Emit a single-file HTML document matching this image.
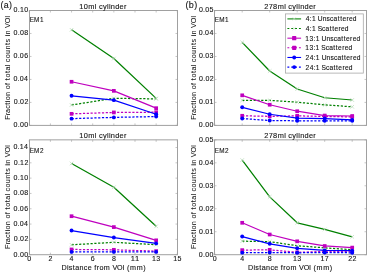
<!DOCTYPE html><html><head><meta charset="utf-8"><style>html,body{margin:0;padding:0;background:#fff;width:368px;height:272px;overflow:hidden}svg{display:block}#w{will-change:transform}</style></head><body>
<div id="w">
<svg width="368" height="272" viewBox="0 0 368 272" font-family='"Liberation Sans", sans-serif'>
<rect width="368" height="272" fill="#fff"/>
<rect x="29.5" y="10.5" width="148.0" height="114.9" fill="none" stroke="#a0a0a0" stroke-width="1"/>
<path d="M29.5 125.40h2M177.5 125.40h-2" stroke="#a0a0a0" stroke-width="0.6"/>
<path d="M29.5 102.42h2M177.5 102.42h-2" stroke="#a0a0a0" stroke-width="0.6"/>
<path d="M29.5 79.44h2M177.5 79.44h-2" stroke="#a0a0a0" stroke-width="0.6"/>
<path d="M29.5 56.46h2M177.5 56.46h-2" stroke="#a0a0a0" stroke-width="0.6"/>
<path d="M29.5 33.48h2M177.5 33.48h-2" stroke="#a0a0a0" stroke-width="0.6"/>
<path d="M29.5 10.50h2M177.5 10.50h-2" stroke="#a0a0a0" stroke-width="0.6"/>
<path d="M29.25 125.4v-2M29.25 10.5v2" stroke="#a0a0a0" stroke-width="0.6"/>
<path d="M50.40 125.4v-2M50.40 10.5v2" stroke="#a0a0a0" stroke-width="0.6"/>
<path d="M71.55 125.4v-2M71.55 10.5v2" stroke="#a0a0a0" stroke-width="0.6"/>
<path d="M92.70 125.4v-2M92.70 10.5v2" stroke="#a0a0a0" stroke-width="0.6"/>
<path d="M113.85 125.4v-2M113.85 10.5v2" stroke="#a0a0a0" stroke-width="0.6"/>
<path d="M135.00 125.4v-2M135.00 10.5v2" stroke="#a0a0a0" stroke-width="0.6"/>
<path d="M156.15 125.4v-2M156.15 10.5v2" stroke="#a0a0a0" stroke-width="0.6"/>
<path d="M177.30 125.4v-2M177.30 10.5v2" stroke="#a0a0a0" stroke-width="0.6"/>
<rect x="29.5" y="139.85" width="148.0" height="114.85" fill="none" stroke="#a0a0a0" stroke-width="1"/>
<path d="M29.5 254.70h2M177.5 254.70h-2" stroke="#a0a0a0" stroke-width="0.6"/>
<path d="M29.5 239.39h2M177.5 239.39h-2" stroke="#a0a0a0" stroke-width="0.6"/>
<path d="M29.5 224.07h2M177.5 224.07h-2" stroke="#a0a0a0" stroke-width="0.6"/>
<path d="M29.5 208.76h2M177.5 208.76h-2" stroke="#a0a0a0" stroke-width="0.6"/>
<path d="M29.5 193.45h2M177.5 193.45h-2" stroke="#a0a0a0" stroke-width="0.6"/>
<path d="M29.5 178.13h2M177.5 178.13h-2" stroke="#a0a0a0" stroke-width="0.6"/>
<path d="M29.5 162.82h2M177.5 162.82h-2" stroke="#a0a0a0" stroke-width="0.6"/>
<path d="M29.5 147.51h2M177.5 147.51h-2" stroke="#a0a0a0" stroke-width="0.6"/>
<path d="M29.25 254.7v-2M29.25 139.85v2" stroke="#a0a0a0" stroke-width="0.6"/>
<path d="M50.40 254.7v-2M50.40 139.85v2" stroke="#a0a0a0" stroke-width="0.6"/>
<path d="M71.55 254.7v-2M71.55 139.85v2" stroke="#a0a0a0" stroke-width="0.6"/>
<path d="M92.70 254.7v-2M92.70 139.85v2" stroke="#a0a0a0" stroke-width="0.6"/>
<path d="M113.85 254.7v-2M113.85 139.85v2" stroke="#a0a0a0" stroke-width="0.6"/>
<path d="M135.00 254.7v-2M135.00 139.85v2" stroke="#a0a0a0" stroke-width="0.6"/>
<path d="M156.15 254.7v-2M156.15 139.85v2" stroke="#a0a0a0" stroke-width="0.6"/>
<path d="M177.30 254.7v-2M177.30 139.85v2" stroke="#a0a0a0" stroke-width="0.6"/>
<rect x="214.5" y="10.5" width="152.0" height="114.9" fill="none" stroke="#a0a0a0" stroke-width="1"/>
<path d="M214.5 125.40h2M366.5 125.40h-2" stroke="#a0a0a0" stroke-width="0.6"/>
<path d="M214.5 102.42h2M366.5 102.42h-2" stroke="#a0a0a0" stroke-width="0.6"/>
<path d="M214.5 79.44h2M366.5 79.44h-2" stroke="#a0a0a0" stroke-width="0.6"/>
<path d="M214.5 56.46h2M366.5 56.46h-2" stroke="#a0a0a0" stroke-width="0.6"/>
<path d="M214.5 33.48h2M366.5 33.48h-2" stroke="#a0a0a0" stroke-width="0.6"/>
<path d="M214.5 10.50h2M366.5 10.50h-2" stroke="#a0a0a0" stroke-width="0.6"/>
<path d="M214.70 125.4v-2M214.70 10.5v2" stroke="#a0a0a0" stroke-width="0.6"/>
<path d="M242.20 125.4v-2M242.20 10.5v2" stroke="#a0a0a0" stroke-width="0.6"/>
<path d="M269.70 125.4v-2M269.70 10.5v2" stroke="#a0a0a0" stroke-width="0.6"/>
<path d="M297.20 125.4v-2M297.20 10.5v2" stroke="#a0a0a0" stroke-width="0.6"/>
<path d="M324.70 125.4v-2M324.70 10.5v2" stroke="#a0a0a0" stroke-width="0.6"/>
<path d="M352.20 125.4v-2M352.20 10.5v2" stroke="#a0a0a0" stroke-width="0.6"/>
<rect x="214.5" y="139.85" width="152.0" height="114.85" fill="none" stroke="#a0a0a0" stroke-width="1"/>
<path d="M214.5 254.70h2M366.5 254.70h-2" stroke="#a0a0a0" stroke-width="0.6"/>
<path d="M214.5 231.73h2M366.5 231.73h-2" stroke="#a0a0a0" stroke-width="0.6"/>
<path d="M214.5 208.76h2M366.5 208.76h-2" stroke="#a0a0a0" stroke-width="0.6"/>
<path d="M214.5 185.79h2M366.5 185.79h-2" stroke="#a0a0a0" stroke-width="0.6"/>
<path d="M214.5 162.82h2M366.5 162.82h-2" stroke="#a0a0a0" stroke-width="0.6"/>
<path d="M214.5 139.85h2M366.5 139.85h-2" stroke="#a0a0a0" stroke-width="0.6"/>
<path d="M214.70 254.7v-2M214.70 139.85v2" stroke="#a0a0a0" stroke-width="0.6"/>
<path d="M242.20 254.7v-2M242.20 139.85v2" stroke="#a0a0a0" stroke-width="0.6"/>
<path d="M269.70 254.7v-2M269.70 139.85v2" stroke="#a0a0a0" stroke-width="0.6"/>
<path d="M297.20 254.7v-2M297.20 139.85v2" stroke="#a0a0a0" stroke-width="0.6"/>
<path d="M324.70 254.7v-2M324.70 139.85v2" stroke="#a0a0a0" stroke-width="0.6"/>
<path d="M352.20 254.7v-2M352.20 139.85v2" stroke="#a0a0a0" stroke-width="0.6"/>
<path d="M71.55 104.97 L113.85 98.30 L156.15 98.88" fill="none" stroke="#008000" stroke-width="1.25" stroke-dasharray="2.2 1.6" stroke-linejoin="round"/>
<path d="M69.75 103.17l3.6 3.6M69.75 106.77l3.6 -3.6" stroke="#b8d8b8" stroke-width="0.7"/>
<path d="M112.05 96.50l3.6 3.6M112.05 100.10l3.6 -3.6" stroke="#b8d8b8" stroke-width="0.7"/>
<path d="M154.35 97.08l3.6 3.6M154.35 100.68l3.6 -3.6" stroke="#b8d8b8" stroke-width="0.7"/>
<path d="M71.55 113.82 L113.85 112.44 L156.15 112.21" fill="none" stroke="#bf00bf" stroke-width="1.25" stroke-dasharray="2.2 1.6" stroke-linejoin="round"/>
<rect x="69.70" y="111.97" width="3.7" height="3.7" fill="#bf00bf"/>
<rect x="112.00" y="110.59" width="3.7" height="3.7" fill="#bf00bf"/>
<rect x="154.30" y="110.36" width="3.7" height="3.7" fill="#bf00bf"/>
<path d="M71.55 118.64 L113.85 117.38 L156.15 116.57" fill="none" stroke="#0000ff" stroke-width="1.25" stroke-dasharray="2.2 1.6" stroke-linejoin="round"/>
<circle cx="71.55" cy="118.64" r="1.95" fill="#0000ff"/>
<circle cx="113.85" cy="117.38" r="1.95" fill="#0000ff"/>
<circle cx="156.15" cy="116.57" r="1.95" fill="#0000ff"/>
<path d="M71.55 29.82 L113.85 58.55 L156.15 98.42" fill="none" stroke="#008000" stroke-width="1.25" stroke-linejoin="round"/>
<path d="M69.75 28.02l3.6 3.6M69.75 31.62l3.6 -3.6" stroke="#b8d8b8" stroke-width="0.7"/>
<path d="M112.05 56.75l3.6 3.6M112.05 60.35l3.6 -3.6" stroke="#b8d8b8" stroke-width="0.7"/>
<path d="M154.35 96.62l3.6 3.6M154.35 100.22l3.6 -3.6" stroke="#b8d8b8" stroke-width="0.7"/>
<path d="M71.55 81.76 L113.85 90.84 L156.15 108.19" fill="none" stroke="#bf00bf" stroke-width="1.25" stroke-linejoin="round"/>
<rect x="69.70" y="79.91" width="3.7" height="3.7" fill="#bf00bf"/>
<rect x="112.00" y="88.99" width="3.7" height="3.7" fill="#bf00bf"/>
<rect x="154.30" y="106.34" width="3.7" height="3.7" fill="#bf00bf"/>
<path d="M71.55 95.78 L113.85 100.14 L156.15 114.27" fill="none" stroke="#0000ff" stroke-width="1.25" stroke-linejoin="round"/>
<circle cx="71.55" cy="95.78" r="1.95" fill="#0000ff"/>
<circle cx="113.85" cy="100.14" r="1.95" fill="#0000ff"/>
<circle cx="156.15" cy="114.27" r="1.95" fill="#0000ff"/>
<path d="M71.55 244.80 L113.85 242.32 L156.15 244.69" fill="none" stroke="#008000" stroke-width="1.25" stroke-dasharray="2.2 1.6" stroke-linejoin="round"/>
<path d="M69.75 243.00l3.6 3.6M69.75 246.60l3.6 -3.6" stroke="#b8d8b8" stroke-width="0.7"/>
<path d="M112.05 240.52l3.6 3.6M112.05 244.12l3.6 -3.6" stroke="#b8d8b8" stroke-width="0.7"/>
<path d="M154.35 242.89l3.6 3.6M154.35 246.49l3.6 -3.6" stroke="#b8d8b8" stroke-width="0.7"/>
<path d="M71.55 249.44 L113.85 249.82 L156.15 251.12" fill="none" stroke="#bf00bf" stroke-width="1.25" stroke-dasharray="2.2 1.6" stroke-linejoin="round"/>
<rect x="69.70" y="247.59" width="3.7" height="3.7" fill="#bf00bf"/>
<rect x="112.00" y="247.97" width="3.7" height="3.7" fill="#bf00bf"/>
<rect x="154.30" y="249.27" width="3.7" height="3.7" fill="#bf00bf"/>
<path d="M71.55 251.89 L113.85 251.89 L156.15 251.89" fill="none" stroke="#0000ff" stroke-width="1.25" stroke-dasharray="2.2 1.6" stroke-linejoin="round"/>
<circle cx="71.55" cy="251.89" r="1.95" fill="#0000ff"/>
<circle cx="113.85" cy="251.89" r="1.95" fill="#0000ff"/>
<circle cx="156.15" cy="251.89" r="1.95" fill="#0000ff"/>
<path d="M71.55 163.45 L113.85 187.27 L156.15 226.31" fill="none" stroke="#008000" stroke-width="1.25" stroke-linejoin="round"/>
<path d="M69.75 161.65l3.6 3.6M69.75 165.25l3.6 -3.6" stroke="#b8d8b8" stroke-width="0.7"/>
<path d="M112.05 185.47l3.6 3.6M112.05 189.07l3.6 -3.6" stroke="#b8d8b8" stroke-width="0.7"/>
<path d="M154.35 224.51l3.6 3.6M154.35 228.11l3.6 -3.6" stroke="#b8d8b8" stroke-width="0.7"/>
<path d="M71.55 216.21 L113.85 227.08 L156.15 240.33" fill="none" stroke="#bf00bf" stroke-width="1.25" stroke-linejoin="round"/>
<rect x="69.70" y="214.36" width="3.7" height="3.7" fill="#bf00bf"/>
<rect x="112.00" y="225.23" width="3.7" height="3.7" fill="#bf00bf"/>
<rect x="154.30" y="238.48" width="3.7" height="3.7" fill="#bf00bf"/>
<path d="M71.55 230.53 L113.85 237.57 L156.15 243.39" fill="none" stroke="#0000ff" stroke-width="1.25" stroke-linejoin="round"/>
<circle cx="71.55" cy="230.53" r="1.95" fill="#0000ff"/>
<circle cx="113.85" cy="237.57" r="1.95" fill="#0000ff"/>
<circle cx="156.15" cy="243.39" r="1.95" fill="#0000ff"/>
<path d="M242.20 100.37 L269.70 100.37 L297.20 102.21 L324.70 104.85 L352.20 106.81" fill="none" stroke="#008000" stroke-width="1.25" stroke-dasharray="2.2 1.6" stroke-linejoin="round"/>
<path d="M240.40 98.57l3.6 3.6M240.40 102.17l3.6 -3.6" stroke="#b8d8b8" stroke-width="0.7"/>
<path d="M267.90 98.57l3.6 3.6M267.90 102.17l3.6 -3.6" stroke="#b8d8b8" stroke-width="0.7"/>
<path d="M295.40 100.41l3.6 3.6M295.40 104.01l3.6 -3.6" stroke="#b8d8b8" stroke-width="0.7"/>
<path d="M322.90 103.05l3.6 3.6M322.90 106.65l3.6 -3.6" stroke="#b8d8b8" stroke-width="0.7"/>
<path d="M350.40 105.01l3.6 3.6M350.40 108.61l3.6 -3.6" stroke="#b8d8b8" stroke-width="0.7"/>
<path d="M242.20 115.77 L269.70 116.34 L297.20 115.86 L324.70 116.46 L352.20 116.92" fill="none" stroke="#bf00bf" stroke-width="1.25" stroke-dasharray="2.2 1.6" stroke-linejoin="round"/>
<rect x="240.35" y="113.92" width="3.7" height="3.7" fill="#bf00bf"/>
<rect x="267.85" y="114.49" width="3.7" height="3.7" fill="#bf00bf"/>
<rect x="295.35" y="114.01" width="3.7" height="3.7" fill="#bf00bf"/>
<rect x="322.85" y="114.61" width="3.7" height="3.7" fill="#bf00bf"/>
<rect x="350.35" y="115.07" width="3.7" height="3.7" fill="#bf00bf"/>
<path d="M242.20 118.53 L269.70 120.50 L297.20 120.82 L324.70 120.82 L352.20 120.82" fill="none" stroke="#0000ff" stroke-width="1.25" stroke-dasharray="2.2 1.6" stroke-linejoin="round"/>
<circle cx="242.20" cy="118.53" r="1.95" fill="#0000ff"/>
<circle cx="269.70" cy="120.50" r="1.95" fill="#0000ff"/>
<circle cx="297.20" cy="120.82" r="1.95" fill="#0000ff"/>
<circle cx="324.70" cy="120.82" r="1.95" fill="#0000ff"/>
<circle cx="352.20" cy="120.82" r="1.95" fill="#0000ff"/>
<path d="M242.20 42.35 L269.70 70.96 L297.20 89.00 L324.70 97.75 L352.20 100.00" fill="none" stroke="#008000" stroke-width="1.25" stroke-linejoin="round"/>
<path d="M240.40 40.55l3.6 3.6M240.40 44.15l3.6 -3.6" stroke="#b8d8b8" stroke-width="0.7"/>
<path d="M267.90 69.16l3.6 3.6M267.90 72.76l3.6 -3.6" stroke="#b8d8b8" stroke-width="0.7"/>
<path d="M295.40 87.20l3.6 3.6M295.40 90.80l3.6 -3.6" stroke="#b8d8b8" stroke-width="0.7"/>
<path d="M322.90 95.95l3.6 3.6M322.90 99.55l3.6 -3.6" stroke="#b8d8b8" stroke-width="0.7"/>
<path d="M350.40 98.20l3.6 3.6M350.40 101.80l3.6 -3.6" stroke="#b8d8b8" stroke-width="0.7"/>
<path d="M242.20 95.32 L269.70 104.74 L297.20 111.24 L324.70 115.54 L352.20 116.00" fill="none" stroke="#bf00bf" stroke-width="1.25" stroke-linejoin="round"/>
<rect x="240.35" y="93.47" width="3.7" height="3.7" fill="#bf00bf"/>
<rect x="267.85" y="102.89" width="3.7" height="3.7" fill="#bf00bf"/>
<rect x="295.35" y="109.39" width="3.7" height="3.7" fill="#bf00bf"/>
<rect x="322.85" y="113.69" width="3.7" height="3.7" fill="#bf00bf"/>
<rect x="350.35" y="114.15" width="3.7" height="3.7" fill="#bf00bf"/>
<path d="M242.20 107.27 L269.70 114.25 L297.20 118.14 L324.70 118.53 L352.20 119.91" fill="none" stroke="#0000ff" stroke-width="1.25" stroke-linejoin="round"/>
<circle cx="242.20" cy="107.27" r="1.95" fill="#0000ff"/>
<circle cx="269.70" cy="114.25" r="1.95" fill="#0000ff"/>
<circle cx="297.20" cy="118.14" r="1.95" fill="#0000ff"/>
<circle cx="324.70" cy="118.53" r="1.95" fill="#0000ff"/>
<circle cx="352.20" cy="119.91" r="1.95" fill="#0000ff"/>
<path d="M242.20 241.17 L269.70 241.63 L297.20 245.76 L324.70 247.83 L352.20 249.67" fill="none" stroke="#008000" stroke-width="1.25" stroke-dasharray="2.2 1.6" stroke-linejoin="round"/>
<path d="M240.40 239.37l3.6 3.6M240.40 242.97l3.6 -3.6" stroke="#b8d8b8" stroke-width="0.7"/>
<path d="M267.90 239.83l3.6 3.6M267.90 243.43l3.6 -3.6" stroke="#b8d8b8" stroke-width="0.7"/>
<path d="M295.40 243.96l3.6 3.6M295.40 247.56l3.6 -3.6" stroke="#b8d8b8" stroke-width="0.7"/>
<path d="M322.90 246.03l3.6 3.6M322.90 249.63l3.6 -3.6" stroke="#b8d8b8" stroke-width="0.7"/>
<path d="M350.40 247.87l3.6 3.6M350.40 251.47l3.6 -3.6" stroke="#b8d8b8" stroke-width="0.7"/>
<path d="M242.20 250.13 L269.70 249.80 L297.20 252.31 L324.70 251.50 L352.20 251.50" fill="none" stroke="#bf00bf" stroke-width="1.25" stroke-dasharray="2.2 1.6" stroke-linejoin="round"/>
<rect x="240.35" y="248.28" width="3.7" height="3.7" fill="#bf00bf"/>
<rect x="267.85" y="247.95" width="3.7" height="3.7" fill="#bf00bf"/>
<rect x="295.35" y="250.46" width="3.7" height="3.7" fill="#bf00bf"/>
<rect x="322.85" y="249.65" width="3.7" height="3.7" fill="#bf00bf"/>
<rect x="350.35" y="249.65" width="3.7" height="3.7" fill="#bf00bf"/>
<path d="M242.20 252.65 L269.70 252.56 L297.20 252.79 L324.70 252.56 L352.20 252.79" fill="none" stroke="#0000ff" stroke-width="1.25" stroke-dasharray="2.2 1.6" stroke-linejoin="round"/>
<circle cx="242.20" cy="252.65" r="1.95" fill="#0000ff"/>
<circle cx="269.70" cy="252.56" r="1.95" fill="#0000ff"/>
<circle cx="297.20" cy="252.79" r="1.95" fill="#0000ff"/>
<circle cx="324.70" cy="252.56" r="1.95" fill="#0000ff"/>
<circle cx="352.20" cy="252.79" r="1.95" fill="#0000ff"/>
<path d="M242.20 160.08 L269.70 196.84 L297.20 222.79 L324.70 229.45 L352.20 236.80" fill="none" stroke="#008000" stroke-width="1.25" stroke-linejoin="round"/>
<path d="M240.40 158.28l3.6 3.6M240.40 161.88l3.6 -3.6" stroke="#b8d8b8" stroke-width="0.7"/>
<path d="M267.90 195.04l3.6 3.6M267.90 198.64l3.6 -3.6" stroke="#b8d8b8" stroke-width="0.7"/>
<path d="M295.40 220.99l3.6 3.6M295.40 224.59l3.6 -3.6" stroke="#b8d8b8" stroke-width="0.7"/>
<path d="M322.90 227.65l3.6 3.6M322.90 231.25l3.6 -3.6" stroke="#b8d8b8" stroke-width="0.7"/>
<path d="M350.40 235.00l3.6 3.6M350.40 238.60l3.6 -3.6" stroke="#b8d8b8" stroke-width="0.7"/>
<path d="M242.20 222.79 L269.70 234.51 L297.20 241.31 L324.70 245.99 L352.20 247.60" fill="none" stroke="#bf00bf" stroke-width="1.25" stroke-linejoin="round"/>
<rect x="240.35" y="220.94" width="3.7" height="3.7" fill="#bf00bf"/>
<rect x="267.85" y="232.66" width="3.7" height="3.7" fill="#bf00bf"/>
<rect x="295.35" y="239.46" width="3.7" height="3.7" fill="#bf00bf"/>
<rect x="322.85" y="244.14" width="3.7" height="3.7" fill="#bf00bf"/>
<rect x="350.35" y="245.75" width="3.7" height="3.7" fill="#bf00bf"/>
<path d="M242.20 236.57 L269.70 243.81 L297.20 248.29 L324.70 250.36 L352.20 250.59" fill="none" stroke="#0000ff" stroke-width="1.25" stroke-linejoin="round"/>
<circle cx="242.20" cy="236.57" r="1.95" fill="#0000ff"/>
<circle cx="269.70" cy="243.81" r="1.95" fill="#0000ff"/>
<circle cx="297.20" cy="248.29" r="1.95" fill="#0000ff"/>
<circle cx="324.70" cy="250.36" r="1.95" fill="#0000ff"/>
<circle cx="352.20" cy="250.59" r="1.95" fill="#0000ff"/>
<text x="0.18 4.63 6.98 11.52" y="0" font-size="7.50" transform="translate(13.328 127.2) scale(0.9397 1)" fill="#151515" stroke="#151515" stroke-width="0.12">0.00</text>
<text x="0.18 4.63 6.98 11.52" y="0" font-size="7.50" transform="translate(13.556 104.22) scale(0.9397 1)" fill="#151515" stroke="#151515" stroke-width="0.12">0.02</text>
<text x="0.18 4.63 6.98 11.52" y="0" font-size="7.50" transform="translate(13.261 81.24) scale(0.9397 1)" fill="#151515" stroke="#151515" stroke-width="0.12">0.04</text>
<text x="0.18 4.63 6.98 11.52" y="0" font-size="7.50" transform="translate(13.308 58.26) scale(0.9397 1)" fill="#151515" stroke="#151515" stroke-width="0.12">0.06</text>
<text x="0.18 4.63 6.98 11.52" y="0" font-size="7.50" transform="translate(13.341 35.28) scale(0.9397 1)" fill="#151515" stroke="#151515" stroke-width="0.12">0.08</text>
<text x="0.18 4.63 6.98 11.52" y="0" font-size="7.50" transform="translate(13.328 12.3) scale(0.9397 1)" fill="#151515" stroke="#151515" stroke-width="0.12">0.10</text>
<text x="0.18 4.63 6.98 11.52" y="0" font-size="7.50" transform="translate(13.328 256.5) scale(0.9397 1)" fill="#151515" stroke="#151515" stroke-width="0.12">0.00</text>
<text x="0.18 4.63 6.98 11.52" y="0" font-size="7.50" transform="translate(13.556 241.19) scale(0.9397 1)" fill="#151515" stroke="#151515" stroke-width="0.12">0.02</text>
<text x="0.18 4.63 6.98 11.52" y="0" font-size="7.50" transform="translate(13.261 225.87) scale(0.9397 1)" fill="#151515" stroke="#151515" stroke-width="0.12">0.04</text>
<text x="0.18 4.63 6.98 11.52" y="0" font-size="7.50" transform="translate(13.308 210.56) scale(0.9397 1)" fill="#151515" stroke="#151515" stroke-width="0.12">0.06</text>
<text x="0.18 4.63 6.98 11.52" y="0" font-size="7.50" transform="translate(13.341 195.25) scale(0.9397 1)" fill="#151515" stroke="#151515" stroke-width="0.12">0.08</text>
<text x="0.18 4.63 6.98 11.52" y="0" font-size="7.50" transform="translate(13.328 179.93) scale(0.9397 1)" fill="#151515" stroke="#151515" stroke-width="0.12">0.10</text>
<text x="0.18 4.63 6.98 11.52" y="0" font-size="7.50" transform="translate(13.556 164.62) scale(0.9397 1)" fill="#151515" stroke="#151515" stroke-width="0.12">0.12</text>
<text x="0.18 4.63 6.98 11.52" y="0" font-size="7.50" transform="translate(13.261 149.31) scale(0.9397 1)" fill="#151515" stroke="#151515" stroke-width="0.12">0.14</text>
<text x="0.18 4.63 6.98 11.52" y="0" font-size="7.50" transform="translate(198.628 127.2) scale(0.9397 1)" fill="#151515" stroke="#151515" stroke-width="0.12">0.00</text>
<text x="0.18 4.63 6.98 11.52" y="0" font-size="7.50" transform="translate(198.802 104.22) scale(0.9397 1)" fill="#151515" stroke="#151515" stroke-width="0.12">0.01</text>
<text x="0.18 4.63 6.98 11.52" y="0" font-size="7.50" transform="translate(198.856 81.24) scale(0.9397 1)" fill="#151515" stroke="#151515" stroke-width="0.12">0.02</text>
<text x="0.18 4.63 6.98 11.52" y="0" font-size="7.50" transform="translate(198.722 58.26) scale(0.9397 1)" fill="#151515" stroke="#151515" stroke-width="0.12">0.03</text>
<text x="0.18 4.63 6.98 11.52" y="0" font-size="7.50" transform="translate(198.561 35.28) scale(0.9397 1)" fill="#151515" stroke="#151515" stroke-width="0.12">0.04</text>
<text x="0.18 4.63 6.98 11.52" y="0" font-size="7.50" transform="translate(198.769 12.3) scale(0.9397 1)" fill="#151515" stroke="#151515" stroke-width="0.12">0.05</text>
<text x="0.18 4.63 6.98 11.52" y="0" font-size="7.50" transform="translate(198.628 256.5) scale(0.9397 1)" fill="#151515" stroke="#151515" stroke-width="0.12">0.00</text>
<text x="0.18 4.63 6.98 11.52" y="0" font-size="7.50" transform="translate(198.802 233.53) scale(0.9397 1)" fill="#151515" stroke="#151515" stroke-width="0.12">0.01</text>
<text x="0.18 4.63 6.98 11.52" y="0" font-size="7.50" transform="translate(198.856 210.56) scale(0.9397 1)" fill="#151515" stroke="#151515" stroke-width="0.12">0.02</text>
<text x="0.18 4.63 6.98 11.52" y="0" font-size="7.50" transform="translate(198.722 187.59) scale(0.9397 1)" fill="#151515" stroke="#151515" stroke-width="0.12">0.03</text>
<text x="0.18 4.63 6.98 11.52" y="0" font-size="7.50" transform="translate(198.561 164.62) scale(0.9397 1)" fill="#151515" stroke="#151515" stroke-width="0.12">0.04</text>
<text x="0.18 4.63 6.98 11.52" y="0" font-size="7.50" transform="translate(198.769 141.65) scale(0.9397 1)" fill="#151515" stroke="#151515" stroke-width="0.12">0.05</text>
<text x="0.18" y="0" font-size="7.50" transform="translate(27.119 261.3) scale(0.9397 1)" fill="#151515" stroke="#151515" stroke-width="0.12">0</text>
<text x="0.18" y="0" font-size="7.50" transform="translate(48.360 261.3) scale(0.9397 1)" fill="#151515" stroke="#151515" stroke-width="0.12">2</text>
<text x="0.18" y="0" font-size="7.50" transform="translate(69.443 261.3) scale(0.9397 1)" fill="#151515" stroke="#151515" stroke-width="0.12">4</text>
<text x="0.18" y="0" font-size="7.50" transform="translate(90.546 261.3) scale(0.9397 1)" fill="#151515" stroke="#151515" stroke-width="0.12">6</text>
<text x="0.18" y="0" font-size="7.50" transform="translate(111.719 261.3) scale(0.9397 1)" fill="#151515" stroke="#151515" stroke-width="0.12">8</text>
<text x="0.03 4.26" y="0" font-size="7.50" transform="translate(130.678 261.3) scale(1.0069 1)" fill="#151515" stroke="#151515" stroke-width="0.12">11</text>
<text x="0.18 4.72" y="0" font-size="7.50" transform="translate(151.788 261.3) scale(0.9397 1)" fill="#151515" stroke="#151515" stroke-width="0.12">13</text>
<text x="0.18 4.72" y="0" font-size="7.50" transform="translate(172.962 261.3) scale(0.9397 1)" fill="#151515" stroke="#151515" stroke-width="0.12">15</text>
<text x="0.18" y="0" font-size="7.50" transform="translate(212.569 261.3) scale(0.9397 1)" fill="#151515" stroke="#151515" stroke-width="0.12">0</text>
<text x="0.18" y="0" font-size="7.50" transform="translate(240.093 261.3) scale(0.9397 1)" fill="#151515" stroke="#151515" stroke-width="0.12">4</text>
<text x="0.18" y="0" font-size="7.50" transform="translate(267.569 261.3) scale(0.9397 1)" fill="#151515" stroke="#151515" stroke-width="0.12">8</text>
<text x="0.18 4.72" y="0" font-size="7.50" transform="translate(292.838 261.3) scale(0.9397 1)" fill="#151515" stroke="#151515" stroke-width="0.12">13</text>
<text x="0.18 4.72" y="0" font-size="7.50" transform="translate(320.355 261.3) scale(0.9397 1)" fill="#151515" stroke="#151515" stroke-width="0.12">17</text>
<text x="0.18 4.72" y="0" font-size="7.50" transform="translate(348.029 261.3) scale(0.9397 1)" fill="#151515" stroke="#151515" stroke-width="0.12">22</text>
<text x="0.16 4.80 9.59 16.53 18.49 20.79 24.95 29.20 31.23 33.25 37.88 42.44 47.05" y="0" font-size="7.78" transform="translate(79.120 8.5) scale(0.9530 1)" fill="#151515" stroke="#151515" stroke-width="0.12">10ml cylinder</text>
<text x="0.16 4.80 9.45 14.25 21.20 23.16 25.46 29.63 33.89 35.91 37.94 42.57 47.14 51.75" y="0" font-size="7.78" transform="translate(264.085 8.5) scale(0.9518 1)" fill="#151515" stroke="#151515" stroke-width="0.12">278ml cylinder</text>
<text x="0.16 4.80 9.59 16.53 18.49 20.79 24.95 29.20 31.23 33.25 37.88 42.44 47.05" y="0" font-size="7.78" transform="translate(79.120 137.9) scale(0.9530 1)" fill="#151515" stroke="#151515" stroke-width="0.12">10ml cylinder</text>
<text x="0.16 4.80 9.45 14.25 21.20 23.16 25.46 29.63 33.89 35.91 37.94 42.57 47.14 51.75" y="0" font-size="7.78" transform="translate(264.085 137.9) scale(0.9518 1)" fill="#151515" stroke="#151515" stroke-width="0.12">278ml cylinder</text>
<text x="-0.02 5.24 12.18" y="0" font-size="7.50" transform="translate(29.643 21.7) scale(0.8513 1)" fill="#151515" stroke="#151515" stroke-width="0.12">EM1</text>
<text x="-0.02 5.24 12.18" y="0" font-size="7.50" transform="translate(214.743 21.7) scale(0.8513 1)" fill="#151515" stroke="#151515" stroke-width="0.12">EM1</text>
<text x="-0.02 5.24 12.18" y="0" font-size="7.50" transform="translate(29.643 152.9) scale(0.8513 1)" fill="#151515" stroke="#151515" stroke-width="0.12">EM2</text>
<text x="-0.02 5.24 12.18" y="0" font-size="7.50" transform="translate(214.743 152.9) scale(0.8513 1)" fill="#151515" stroke="#151515" stroke-width="0.12">EM2</text>
<text x="0.19 3.68 9.29" y="0" font-size="9.52" transform="translate(0.369 8.3) scale(0.9363 1)" fill="#151515" stroke="#151515" stroke-width="0.12">(a)</text>
<text x="0.16 3.68 9.32" y="0" font-size="9.52" transform="translate(185.369 8.3) scale(0.9510 1)" fill="#151515" stroke="#151515" stroke-width="0.12">(b)</text>
<text x="0.08 5.97 7.89 12.19 14.88 19.57 24.24 28.40 32.99 35.51 38.16 41.14 45.86 52.87 55.12 60.22 66.11 68.41 70.86 74.04 81.36 88.44" y="0" font-size="7.78" transform="translate(61.457 269.75) scale(0.9244 1)" fill="#151515" stroke="#151515" stroke-width="0.12">Distance from VOI (mm)</text>
<text x="0.08 5.97 7.89 12.19 14.88 19.57 24.24 28.40 32.99 35.51 38.16 41.14 45.86 52.87 55.12 60.22 66.11 68.41 70.86 74.04 81.36 88.44" y="0" font-size="7.78" transform="translate(248.007 269.75) scale(0.9244 1)" fill="#151515" stroke="#151515" stroke-width="0.12">Distance from VOI (mm)</text>
<text x="-0.22 4.60 7.05 11.67 16.11 18.86 20.92 25.63 30.32 32.75 37.49 40.02 42.71 45.41 50.30 53.01 57.69 59.73 62.14 66.32 71.03 75.83 80.80 83.38 87.43 89.90 92.04 96.73 99.00 104.13 110.05" y="0" font-size="7.84" transform="rotate(-90 10.4 67.7) translate(-41.519 67.7) scale(0.9250 1)" fill="#151515" stroke="#151515" stroke-width="0.05">Fraction of total counts in VOI</text>
<text x="-0.22 4.60 7.05 11.67 16.11 18.86 20.92 25.63 30.32 32.75 37.49 40.02 42.71 45.41 50.30 53.01 57.69 59.73 62.14 66.32 71.03 75.83 80.80 83.38 87.43 89.90 92.04 96.73 99.00 104.13 110.05" y="0" font-size="7.84" transform="rotate(-90 195.7 67.7) translate(143.781 67.7) scale(0.9250 1)" fill="#151515" stroke="#151515" stroke-width="0.05">Fraction of total counts in VOI</text>
<text x="-0.22 4.60 7.05 11.67 16.11 18.86 20.92 25.63 30.32 32.75 37.49 40.02 42.71 45.41 50.30 53.01 57.69 59.73 62.14 66.32 71.03 75.83 80.80 83.38 87.43 89.90 92.04 96.73 99.00 104.13 110.05" y="0" font-size="7.84" transform="rotate(-90 10.4 196.95) translate(-41.519 196.95) scale(0.9250 1)" fill="#151515" stroke="#151515" stroke-width="0.05">Fraction of total counts in VOI</text>
<text x="-0.22 4.60 7.05 11.67 16.11 18.86 20.92 25.63 30.32 32.75 37.49 40.02 42.71 45.41 50.30 53.01 57.69 59.73 62.14 66.32 71.03 75.83 80.80 83.38 87.43 89.90 92.04 96.73 99.00 104.13 110.05" y="0" font-size="7.84" transform="rotate(-90 195.7 196.95) translate(143.781 196.95) scale(0.9250 1)" fill="#151515" stroke="#151515" stroke-width="0.05">Fraction of total counts in VOI</text>
<rect x="285.5" y="13.9" width="77.8" height="59.2" fill="#fff" stroke="#a8a8a8" stroke-width="0.8"/>
<path d="M287.4 18.90H301.1" stroke="#008000" stroke-width="1.05"/>
<path d="M292.6 17.30l3.2 3.2M292.6 20.50l3.2 -3.2" stroke="#c8e0c8" stroke-width="0.6"/>
<text x="0.19 4.51 6.85 11.10 13.11 18.37 22.52 26.19 29.96 34.39 37.08 39.53 43.83 46.55 50.67" y="0" font-size="7.15" transform="translate(305.587 21.4) scale(0.9326 1)" fill="#151515" stroke="#151515" stroke-width="0.12">4:1 Unscattered</text>
<path d="M287.4 28.54H301.1" stroke="#008000" stroke-width="1.05" stroke-dasharray="1.9 1.95"/>
<path d="M292.6 26.94l3.2 3.2M292.6 30.14l3.2 -3.2" stroke="#c8e0c8" stroke-width="0.6"/>
<text x="0.19 4.50 6.83 11.09 12.95 17.59 21.36 25.79 28.47 30.91 35.22 37.93 42.04" y="0" font-size="7.15" transform="translate(305.587 31.04) scale(0.9340 1)" fill="#151515" stroke="#151515" stroke-width="0.12">4:1 Scattered</text>
<path d="M287.4 38.18H301.1" stroke="#bf00bf" stroke-width="1.05"/>
<rect x="292.1" y="36.08" width="4.2" height="4.2" rx="0.6" fill="#bf00bf"/>
<text x="0.19 4.54 8.86 11.19 15.45 17.45 22.71 26.86 30.52 34.29 38.72 41.40 43.85 48.16 50.87 54.99" y="0" font-size="7.15" transform="translate(305.198 40.68) scale(0.9331 1)" fill="#151515" stroke="#151515" stroke-width="0.12">13:1 Unscattered</text>
<path d="M287.4 47.82H301.1" stroke="#bf00bf" stroke-width="1.05" stroke-dasharray="1.9 1.95"/>
<rect x="292.1" y="45.72" width="4.2" height="4.2" rx="0.6" fill="#bf00bf"/>
<text x="0.18 4.53 8.85 11.17 15.42 17.29 21.93 25.69 30.12 32.80 35.24 39.54 42.25 46.37" y="0" font-size="7.15" transform="translate(305.198 50.32) scale(0.9345 1)" fill="#151515" stroke="#151515" stroke-width="0.12">13:1 Scattered</text>
<path d="M287.4 57.46H301.1" stroke="#0000ff" stroke-width="1.05"/>
<circle cx="294.2" cy="57.46" r="1.95" fill="#0000ff"/>
<text x="0.19 4.54 8.86 11.19 15.45 17.45 22.71 26.86 30.52 34.29 38.72 41.40 43.85 48.16 50.87 54.99" y="0" font-size="7.15" transform="translate(305.434 59.96) scale(0.9331 1)" fill="#151515" stroke="#151515" stroke-width="0.12">24:1 Unscattered</text>
<path d="M287.4 67.10H301.1" stroke="#0000ff" stroke-width="1.05" stroke-dasharray="1.9 1.95"/>
<circle cx="294.2" cy="67.10" r="1.95" fill="#0000ff"/>
<text x="0.18 4.53 8.85 11.17 15.42 17.29 21.93 25.69 30.12 32.80 35.24 39.54 42.25 46.37" y="0" font-size="7.15" transform="translate(305.434 69.6) scale(0.9345 1)" fill="#151515" stroke="#151515" stroke-width="0.12">24:1 Scattered</text>
</svg></div></body></html>
